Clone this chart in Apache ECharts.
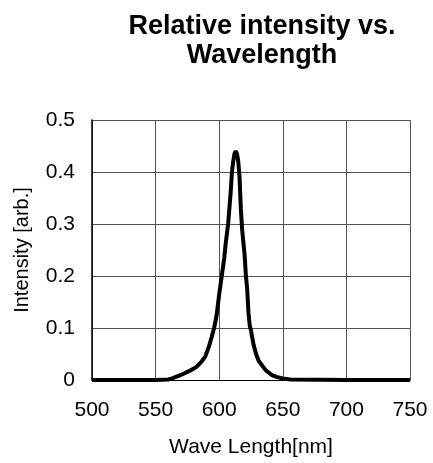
<!DOCTYPE html>
<html>
<head>
<meta charset="utf-8">
<script src="https://cdn.jsdelivr.net/npm/echarts@6/dist/echarts.min.js"></script>
<style>html,body{margin:0;padding:0;background:#fff;}#c{width:433px;height:463px;}</style>
</head>
<body>
<div id="c"></div>
<script>
const titleText = 'Relative intensity vs.\nWavelength';
const xName = 'Wave Length[nm]';
const yName = 'Intensity [arb.]';
const wavelength = [500, 550, 560, 563, 568, 572, 577, 582, 586, 589, 592, 594, 596, 598, 600, 602, 604, 605, 607, 608, 609, 610, 611, 612, 613, 614, 615, 616, 617, 618, 619, 620, 621, 622, 623, 624, 625, 627, 629, 631, 634, 637, 641, 645, 650, 656, 700, 750];
const intensity = [0, 0, 0.001, 0.003, 0.008, 0.012, 0.018, 0.025, 0.035, 0.045, 0.065, 0.082, 0.1, 0.125, 0.165, 0.2, 0.235, 0.26, 0.3, 0.33, 0.36, 0.4, 0.42, 0.435, 0.44, 0.435, 0.42, 0.39, 0.33, 0.29, 0.265, 0.24, 0.2, 0.175, 0.13, 0.105, 0.095, 0.068, 0.05, 0.037, 0.027, 0.018, 0.01, 0.006, 0.003, 0.001, 0, 0];

const chart = echarts.init(document.getElementById('c'));
const font = 'Liberation Sans, Arial, sans-serif';
chart.setOption({
  animation: false,
  backgroundColor: '#fff',
  title: {
    text: titleText,
    left: 257, top: 7, textAlign: 'center',
    textStyle: { fontFamily: font, fontWeight: 'bold', fontSize: 27, lineHeight: 29, color: '#000' }
  },
  grid: { left: 92, right: 23, top: 120, bottom: 83 },
  xAxis: {
    type: 'value', min: 500, max: 750, interval: 50,
    name: xName, nameLocation: 'middle', nameGap: 57,
    nameTextStyle: { fontFamily: font, fontSize: 21, color: '#000' },
    axisLine: { show: true, lineStyle: { color: '#000', width: 1 } },
    axisTick: { show: false },
    axisLabel: { margin: 20, fontFamily: font, fontSize: 21, color: '#000' },
    splitLine: { show: true, lineStyle: { color: '#555', width: 1 } }
  },
  yAxis: {
    type: 'value', min: 0, max: 0.5, interval: 0.1,
    name: yName, nameLocation: 'middle', nameGap: 60,
    nameTextStyle: { fontFamily: font, fontSize: 20, color: '#000' },
    axisLine: { show: true, lineStyle: { color: '#000', width: 1.5 } },
    axisTick: { show: false },
    axisLabel: { margin: 17, fontFamily: font, fontSize: 21, color: '#000' },
    splitLine: { show: true, lineStyle: { color: '#555', width: 1 } }
  },
  series: [{
    type: 'line',
    data: wavelength.map((w, i) => [w, intensity[i]]),
    showSymbol: false,
    lineStyle: { color: '#000', width: 4 },
    smooth: false
  }]
});
</script>
</body>
</html>
